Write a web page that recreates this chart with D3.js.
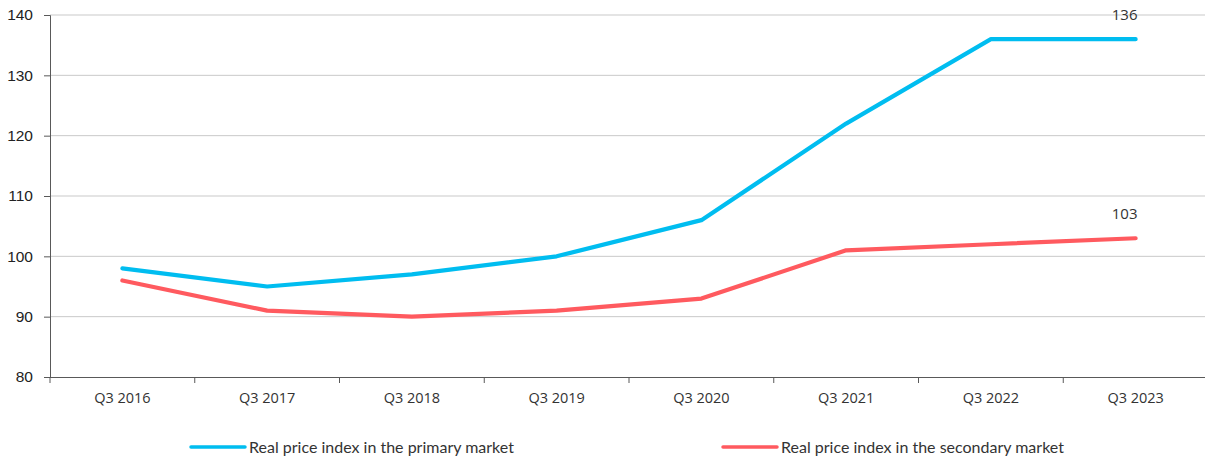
<!DOCTYPE html>
<html>
<head>
<meta charset="utf-8">
<script src="https://cdn.jsdelivr.net/npm/d3@7"></script>
<style>
  body { margin: 0; background: #fff; }
  svg { display: block; }
</style>
</head>
<body>
<div id="chart"></div>
<script>
// data
const quarters = ["Q3 2016", "Q3 2017", "Q3 2018", "Q3 2019", "Q3 2020", "Q3 2021", "Q3 2022", "Q3 2023"];
const primary = [98, 95, 97, 100, 106, 122, 136, 136];
const secondary = [96, 91, 90, 91, 93, 101, 102, 103];
const yTicks = [80, 90, 100, 110, 120, 130, 140];

const width = 1205;
const height = 459;
const margin = { top: 15, right: -3, bottom: 82, left: 50 };

const series = [
  { name: "Real price index in the primary market", values: primary, color: "#00bdf0", legendX: 191 },
  { name: "Real price index in the secondary market", values: secondary, color: "#ff5a5f", legendX: 723 }
];

const svg = d3.select("#chart")
  .append("svg")
  .attr("width", width)
  .attr("height", height);

const x = d3.scaleBand()
  .domain(quarters)
  .range([margin.left, width - margin.right]);

const y = d3.scaleLinear()
  .domain([80, 140])
  .range([height - margin.bottom, margin.top]);

// gridlines
svg.append("g")
  .selectAll("line")
  .data(yTicks.filter(d => d > 80))
  .enter().append("line")
  .attr("x1", margin.left)
  .attr("x2", width)
  .attr("y1", d => y(d))
  .attr("y2", d => y(d))
  .attr("stroke", "#c9c9c9")
  .attr("stroke-width", 1);

// y axis
const yAxis = svg.append("g")
  .attr("transform", `translate(${margin.left},0)`)
  .call(d3.axisLeft(y).tickValues(yTicks).tickSize(6).tickPadding(11));
yAxis.select(".domain").attr("stroke", "#595959");
yAxis.selectAll(".tick line").attr("stroke", "#595959");
yAxis.selectAll("text")
  .attr("fill", "#222")
  .style("font-family", "'Liberation Sans', Arial, sans-serif")
  .style("font-size", "15.5px");

// x axis
const xAxis = svg.append("g")
  .attr("transform", `translate(0,${height - margin.bottom})`)
  .call(d3.axisBottom(x).tickSizeOuter(0).tickSize(0).tickPadding(16));
xAxis.select(".domain").attr("stroke", "#595959").attr("d", `M${margin.left},0.5H${width}`);
xAxis.selectAll("text")
  .attr("fill", "#333")
  .style("font-family", "'Open Sans', sans-serif")
  .style("font-size", "14.5px");

// tick marks between categories
svg.append("g")
  .selectAll("line")
  .data(quarters)
  .enter().append("line")
  .attr("x1", d => x(d))
  .attr("x2", d => x(d))
  .attr("y1", height - margin.bottom)
  .attr("y2", height - margin.bottom + 6)
  .attr("stroke", "#595959");

const line = d3.line()
  .x((d, i) => x(quarters[i]) + x.bandwidth() / 2)
  .y(d => y(d));

series.forEach(s => {
  svg.append("path")
    .datum(s.values)
    .attr("fill", "none")
    .attr("stroke", s.color)
    .attr("stroke-width", 4.2)
    .attr("stroke-linecap", "round")
    .attr("stroke-linejoin", "round")
    .attr("d", line);

  const last = s.values.length - 1;
  svg.append("text")
    .attr("x", x(quarters[last]) + x.bandwidth() / 2 - 11)
    .attr("y", y(s.values[last]) - 19)
    .attr("text-anchor", "middle")
    .attr("fill", "#333")
    .style("font-family", "'Open Sans', sans-serif")
    .style("font-size", "15px")
    .text(s.values[last]);

  // legend
  const lg = svg.append("g").attr("transform", `translate(${s.legendX},447)`);
  lg.append("line")
    .attr("x1", 0).attr("x2", 54)
    .attr("stroke", s.color)
    .attr("stroke-width", 3.5)
    .attr("stroke-linecap", "round");
  lg.append("text")
    .attr("x", 58)
    .attr("dy", "0.35em")
    .attr("fill", "#333")
    .style("font-family", "Lato, sans-serif")
    .style("font-size", "16px")
    .text(s.name);
});
</script>
</body>
</html>
